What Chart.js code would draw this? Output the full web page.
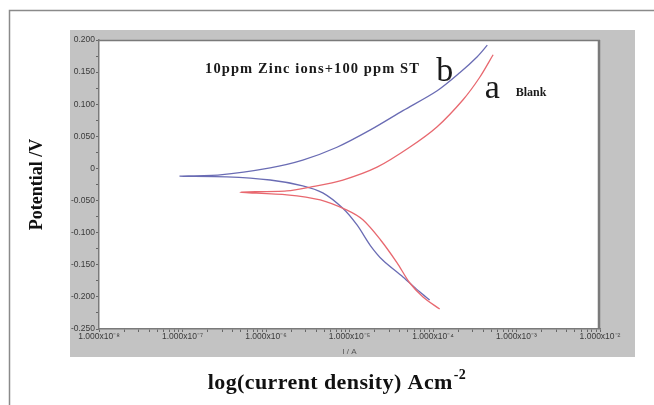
<!DOCTYPE html>
<html lang="en">
<head>
  <meta charset="UTF-8" />
  <title>Tafel plot</title>
  <script src="https://cdn.jsdelivr.net/npm/chart.js@4"></script>
  <style>
    body {
      margin: 0;
      background: white;
    }

    .chart-box {
      width: 654px;
      height: 405px;
    }
  </style>
</head>
<body>
  <div class="chart-box">
    <canvas id="tafelChart"></canvas>
  </div>

  <script>
    // log10(I / A) and potential (V), one array per branch
    const blankAnodicLogI = [-6.31, -5.75, -5.47, -5.08, -4.67, -4.28, -3.95, -3.64, -3.44, -3.28];
    const blankAnodicE = [-0.038, -0.035, -0.029, -0.018, 0.002, 0.033, 0.065, 0.107, 0.142, 0.177];
    const blankCathodicLogI = [-6.31, -5.75, -5.35, -5.03, -4.84, -4.63, -4.43, -4.28, -4.12, -3.92];
    const blankCathodicE = [-0.037, -0.041, -0.049, -0.065, -0.080, -0.111, -0.147, -0.178, -0.200, -0.219];

    const zincAnodicLogI = [-7.03, -6.55, -5.95, -5.56, -5.15, -4.75, -4.36, -3.95, -3.68, -3.47, -3.35];
    const zincAnodicE = [-0.012, -0.010, 0.001, 0.013, 0.033, 0.060, 0.090, 0.121, 0.149, 0.174, 0.192];
    const zincCathodicLogI = [-7.03, -6.47, -5.95, -5.56, -5.32, -5.08, -4.91, -4.75, -4.60, -4.36, -4.16, -4.04];
    const zincCathodicE = [-0.012, -0.013, -0.018, -0.027, -0.038, -0.062, -0.088, -0.120, -0.143, -0.169, -0.192, -0.205];

    const xDecades = [-8, -7, -6, -5, -4, -3, -2];
    const yMin = -0.25;
    const yMax = 0.2;

    const superDigits = { "-": "\u207B", "0": "\u2070", "1": "\u00B9", "2": "\u00B2", "3": "\u00B3",
      "4": "\u2074", "5": "\u2075", "6": "\u2076", "7": "\u2077", "8": "\u2078", "9": "\u2079" };

    function toSuper(n) {
      return String(n).split("").map(c => superDigits[c]).join("");
    }

    // one continuous path: cathodic end -> corrosion potential -> anodic end
    function buildPath(cLogI, cE, aLogI, aE) {
      const pts = [];
      for (let i = cLogI.length - 1; i >= 0; i--) pts.push({ x: cLogI[i], y: cE[i] });
      for (let i = 1; i < aLogI.length; i++) pts.push({ x: aLogI[i], y: aE[i] });
      return pts;
    }

    const serif = "'Liberation Serif', 'Times New Roman', serif";

    const decorPlugin = {
      id: "decor",
      beforeDraw(chart) {
        const { ctx, chartArea: a } = chart;
        ctx.save();
        ctx.fillStyle = "#ffffff";
        ctx.fillRect(0, 0, chart.width, chart.height);
        // outer frame
        ctx.strokeStyle = "#8a8a8a";
        ctx.lineWidth = 1.5;
        ctx.beginPath();
        ctx.moveTo(9.5, chart.height);
        ctx.lineTo(9.5, 10.5);
        ctx.lineTo(chart.width, 10.5);
        ctx.stroke();
        // grey panel behind the plot
        ctx.fillStyle = "#c3c3c3";
        ctx.fillRect(a.left - 29, a.top - 10, a.right - a.left + 64, a.bottom - a.top + 38);
        ctx.fillStyle = "#ffffff";
        ctx.fillRect(a.left, a.top, a.right - a.left, a.bottom - a.top);
        ctx.restore();
      },
      afterDraw(chart) {
        const { ctx, chartArea: a, scales } = chart;
        ctx.save();
        // plot frame, heavier on the right like the original
        ctx.strokeStyle = "#7a7a7a";
        ctx.lineWidth = 1.5;
        ctx.beginPath();
        ctx.moveTo(a.left, a.top + 0.5);
        ctx.lineTo(a.right, a.top + 0.5);
        ctx.stroke();
        ctx.lineWidth = 2.5;
        ctx.beginPath();
        ctx.moveTo(a.right - 1, a.top);
        ctx.lineTo(a.right - 1, a.bottom);
        ctx.stroke();

        // labels inside the plot
        const x = scales.x, y = scales.y;
        ctx.fillStyle = "#1a1a1a";
        ctx.textBaseline = "alphabetic";
        ctx.textAlign = "left";
        ctx.font = "bold 14.5px " + serif;
        ctx.letterSpacing = "1.1px";
        ctx.fillText("10ppm Zinc ions+100 ppm ST", x.getPixelForValue(-6.73), y.getPixelForValue(0.149));
        ctx.letterSpacing = "0px";
        ctx.font = "34px " + serif;
        ctx.fillText("b", x.getPixelForValue(-3.96), y.getPixelForValue(0.136));
        ctx.fillText("a", x.getPixelForValue(-3.38), y.getPixelForValue(0.110));
        ctx.font = "bold 12px " + serif;
        ctx.fillText("Blank", x.getPixelForValue(-3.01), y.getPixelForValue(0.113));

        // big x axis title with superscript
        const main = "log(current density) Acm";
        const sup = "-2";
        ctx.letterSpacing = "0.4px";
        ctx.font = "bold 22px " + serif;
        const w1 = ctx.measureText(main).width;
        ctx.font = "bold 14px " + serif;
        const w2 = ctx.measureText(sup).width;
        const cx = (a.left + a.right) / 2 - 13;
        const startX = cx - (w1 + w2) / 2;
        const baseY = a.bottom + 60;
        ctx.fillStyle = "#111111";
        ctx.font = "bold 22px " + serif;
        ctx.fillText(main, startX, baseY);
        ctx.font = "bold 14px " + serif;
        ctx.fillText(sup, startX + w1 + 1, baseY - 10);
        ctx.restore();
      }
    };

    const ctx = document.getElementById("tafelChart").getContext("2d");

    new Chart(ctx, {
      type: "scatter",
      data: {
        datasets: [
          {
            label: "a Blank",
            data: buildPath(blankCathodicLogI, blankCathodicE, blankAnodicLogI, blankAnodicE),
            showLine: true,
            borderColor: "#e8686f",
            borderWidth: 1.3,
            pointRadius: 0,
            tension: 0.3
          },
          {
            label: "b 10ppm Zinc ions+100 ppm ST",
            data: buildPath(zincCathodicLogI, zincCathodicE, zincAnodicLogI, zincAnodicE),
            showLine: true,
            borderColor: "#6a6cb4",
            borderWidth: 1.3,
            pointRadius: 0,
            tension: 0.3
          }
        ]
      },
      options: {
        responsive: true,
        maintainAspectRatio: false,
        animation: false,
        layout: { padding: { top: 40, right: 54, left: 0, bottom: 0 } },
        plugins: {
          legend: { display: false },
          tooltip: { enabled: false }
        },
        scales: {
          x: {
            type: "linear",
            min: xDecades[0],
            max: xDecades[xDecades.length - 1],
            afterBuildTicks(scale) {
              const ticks = [];
              xDecades.forEach((d, i) => {
                ticks.push({ value: d });
                if (i < xDecades.length - 1) {
                  for (let k = 2; k <= 9; k++) ticks.push({ value: d + Math.log10(k) });
                }
              });
              scale.ticks = ticks;
            },
            afterFit(scale) { scale.height = 76; },
            ticks: {
              autoSkip: false,
              maxRotation: 0,
              padding: 0,
              color: "#3a3a3a",
              font: { family: "'Liberation Sans', Arial, sans-serif", size: 8.5 },
              callback(v) {
                return Math.abs(v - Math.round(v)) < 1e-9 ? "1.000x10" + toSuper(Math.round(v)) : "";
              }
            },
            grid: { drawOnChartArea: false, drawTicks: true, tickLength: 3, color: "#666666" },
            border: { display: true, color: "#7a7a7a", width: 1.5 },
            title: {
              display: true,
              text: "I / A",
              color: "#555555",
              font: { family: "'Liberation Sans', Arial, sans-serif", size: 8 },
              padding: { top: 0, bottom: 48 }
            }
          },
          y: {
            min: yMin,
            max: yMax,
            afterFit(scale) { scale.width = 99; },
            ticks: {
              stepSize: 0.025,
              autoSkip: false,
              padding: 1,
              color: "#3a3a3a",
              font: { family: "'Liberation Sans', Arial, sans-serif", size: 8.5 },
              callback(v) {
                const q = v / 0.05;
                if (Math.abs(q - Math.round(q)) > 1e-6) return "";
                const r = Math.round(q) * 0.05;
                return Math.abs(r) < 1e-9 ? "0" : r.toFixed(3);
              }
            },
            grid: { drawOnChartArea: false, drawTicks: true, tickLength: 3, color: "#666666" },
            border: { display: true, color: "#7a7a7a", width: 1.5 },
            title: {
              display: true,
              text: "Potential /V",
              color: "#111111",
              font: { family: serif, size: 18, weight: "bold" },
              padding: { top: 27, bottom: 0 }
            }
          }
        }
      },
      plugins: [decorPlugin]
    });
  </script>
</body>
</html>
